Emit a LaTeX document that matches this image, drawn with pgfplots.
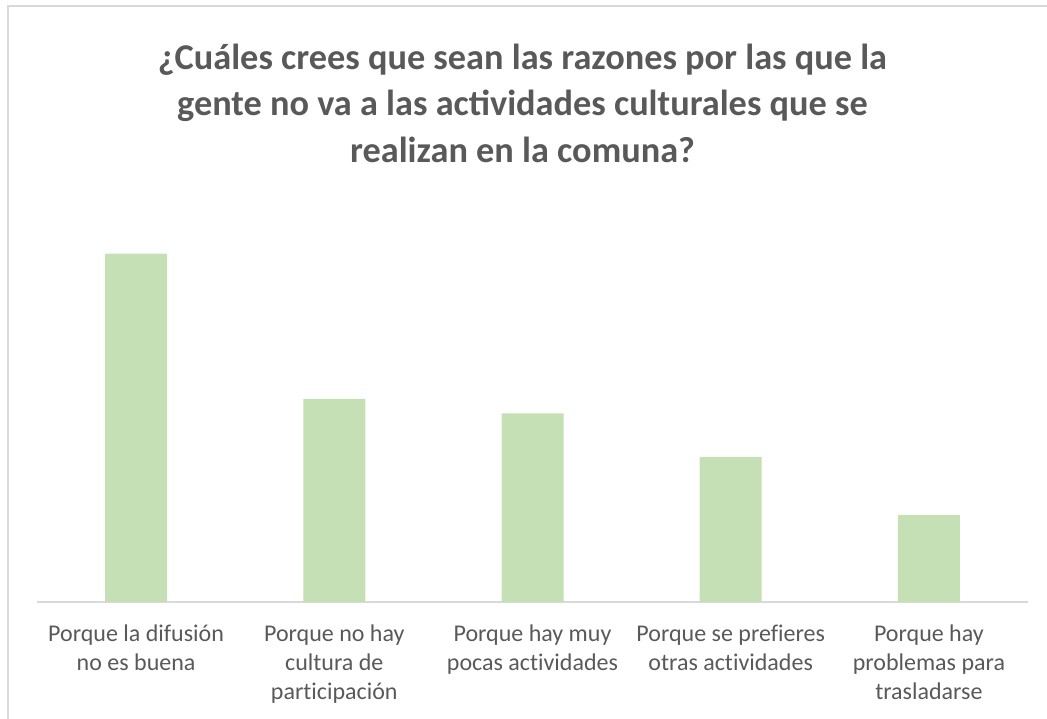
\documentclass[border=0pt]{standalone}
\usepackage{pgfplots}
\pgfplotsset{compat=1.18}
\usepackage{fontspec}
\setmainfont{Carlito}
\definecolor{barg}{HTML}{C5E0B4}
\definecolor{txt}{HTML}{595959}
\definecolor{frm}{HTML}{D9D9D9}
\begin{document}
\begin{tikzpicture}[x=1pt,y=1pt]
\path[use as bounding box] (0,0) rectangle (1047,719);
\draw[frm, line width=1.5pt] (8,-5) -- (8,713) -- (1052,713);
\node[txt, font=\bfseries\fontsize{36.3}{46.5}\selectfont, align=center] at (522.5,616)
  {¿Cuáles crees que sean las razones por las que la\\gente no va a las actividades culturales que se\\realizan en la comuna?};
\begin{axis}[
  at={(37pt,117pt)}, anchor=south west,
  width=991pt, height=402pt, scale only axis,
  xmin=-0.5, xmax=4.5, ymin=0, ymax=27.7,
  axis y line=none, axis x line*=bottom,
  x axis line style={frm, line width=1.5pt, -},
  xtick=data, major tick length=0pt,
  xticklabels={{Porque la difusión\\no es buena},{Porque no hay\\cultura de\\participación},{Porque hay muy\\pocas actividades},{Porque se prefieres\\otras actividades},{Porque hay\\problemas para\\trasladarse}},
  xticklabel style={align=center, txt, font=\addfontfeatures{Ligatures=NoCommon}\fontsize{24}{29}\selectfont, yshift=-19pt},
  ybar, bar width=62pt,
]
\addplot[fill=barg, draw=none] coordinates {(0,24) (1,14) (2,13) (3,10) (4,6)};
\end{axis}
\end{tikzpicture}
\end{document}
